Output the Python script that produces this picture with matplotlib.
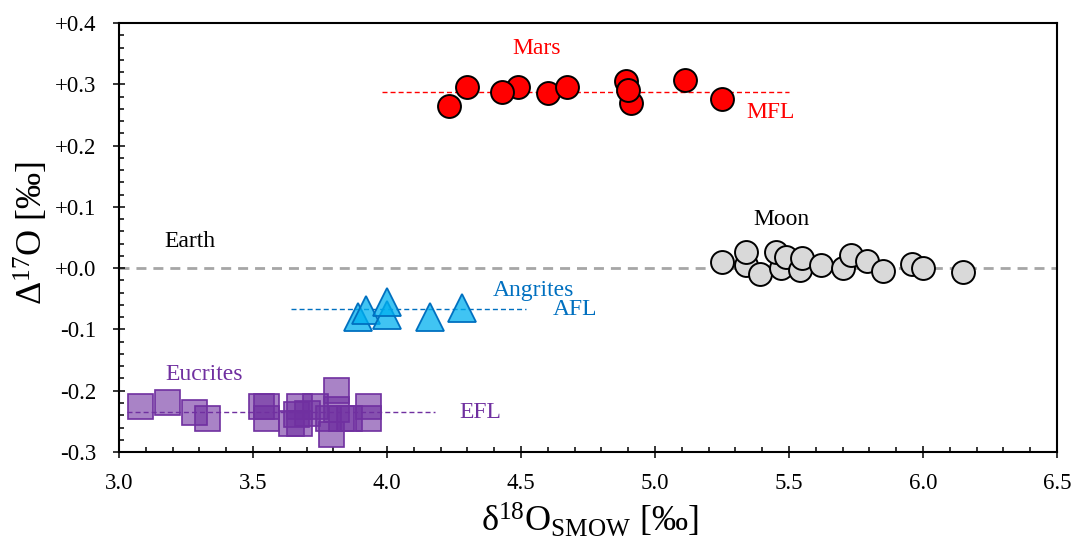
import numpy as np
import matplotlib
matplotlib.use('Agg')
import matplotlib.pyplot as plt
from matplotlib.ticker import MultipleLocator, FuncFormatter

plt.rcParams['font.family'] = ['Liberation Serif', 'DejaVu Serif']
plt.rcParams['mathtext.fontset'] = 'custom'
plt.rcParams['mathtext.rm'] = 'Liberation Serif'
plt.rcParams['mathtext.it'] = 'Liberation Serif:italic'

# d18O (x) and D17O (y) values, permil
mars_x = [4.23, 4.49, 4.43, 4.60, 4.67, 4.30, 4.89, 4.91, 4.90, 5.11, 5.25]
mars_y = [0.265, 0.295, 0.288, 0.285, 0.295, 0.295, 0.306, 0.270, 0.290, 0.307, 0.276]

moon_x = [5.25, 5.34, 5.34, 5.39, 5.47, 5.45, 5.49, 5.54, 5.55, 5.62, 5.70,
          5.73, 5.79, 5.85, 5.96, 6.00, 6.15]
moon_y = [0.010, 0.005, 0.026, -0.010, 0.000, 0.027, 0.019, -0.003, 0.016,
          0.005, 0.000, 0.021, 0.011, -0.004, 0.007, 0.001, -0.006]

angrite_x = [3.89, 3.92, 4.00, 4.00, 4.16, 4.28]
angrite_y = [-0.079, -0.068, -0.076, -0.055, -0.079, -0.065]

eucrite_x = [3.08, 3.18, 3.28, 3.33, 3.53, 3.55, 3.55, 3.64, 3.66, 3.67, 3.67,
             3.70, 3.73, 3.78, 3.81, 3.81, 3.79, 3.83, 3.86, 3.93, 3.93]
eucrite_y = [-0.225, -0.219, -0.234, -0.245, -0.225, -0.245, -0.225, -0.253,
             -0.238, -0.225, -0.253, -0.237, -0.225, -0.245, -0.199, -0.230,
             -0.270, -0.245, -0.245, -0.225, -0.245]

# fractionation lines: (x start, x end, D17O)
mfl = (3.98, 5.50, 0.288)
afl = (3.64, 4.52, -0.067)
efl = (3.03, 4.18, -0.234)

fig = plt.figure(figsize=(10.75, 5.45), dpi=100)
ax = fig.add_axes([0.1107, 0.1706, 0.8726, 0.7872])

# terrestrial line
ax.axhline(0.0, color='#A6A6A6', lw=2, dashes=(3.6, 2.5), zorder=1)

ax.plot(mfl[:2], [mfl[2]] * 2, color='#FF0000', lw=1, dashes=(3.6, 2.2), zorder=1)
ax.plot(afl[:2], [afl[2]] * 2, color='#0070C0', lw=1, dashes=(3.6, 2.2), zorder=1)
ax.plot(efl[:2], [efl[2]] * 2, color='#7030A0', lw=1, dashes=(3.6, 2.2), zorder=1)

for x, y in zip(eucrite_x, eucrite_y):
    ax.plot(x, y, 's', ms=18, mfc=(0.44, 0.19, 0.63, 0.6), mec='#7030A0',
            mew=1.2, zorder=2)
for x, y in zip(angrite_x, angrite_y):
    ax.plot(x, y, '^', ms=19.5, mfc=(0.0, 0.69, 0.94, 0.75), mec='#0070C0',
            mew=1.3, zorder=2)
for x, y in zip(moon_x, moon_y):
    ax.plot(x, y, 'o', ms=16.5, mfc='#D9D9D9', mec='black', mew=1.4, zorder=3)
for x, y in zip(mars_x, mars_y):
    ax.plot(x, y, 'o', ms=16.5, mfc='#FF0000', mec='black', mew=1.4, zorder=3)

ax.text(4.56, 0.359, 'Mars', color='#FF0000', fontsize=17, ha='center', va='center')
ax.text(5.43, 0.254, 'MFL', color='#FF0000', fontsize=17, ha='center', va='center')
ax.text(5.47, 0.080, 'Moon', color='black', fontsize=17, ha='center', va='center')
ax.text(3.265, 0.044, 'Earth', color='black', fontsize=17, ha='center', va='center')
ax.text(4.545, -0.037, 'Angrites', color='#0070C0', fontsize=17, ha='center', va='center')
ax.text(4.70, -0.068, 'AFL', color='#0070C0', fontsize=17, ha='center', va='center')
ax.text(3.317, -0.174, 'Eucrites', color='#7030A0', fontsize=17, ha='center', va='center')
ax.text(4.347, -0.235, 'EFL', color='#7030A0', fontsize=17, ha='center', va='center')

ax.set_xlim(3.0, 6.5)
ax.set_ylim(-0.3, 0.4)
ax.xaxis.set_major_locator(MultipleLocator(0.5))
ax.xaxis.set_minor_locator(MultipleLocator(0.1))
ax.yaxis.set_major_locator(MultipleLocator(0.1))
ax.yaxis.set_minor_locator(MultipleLocator(0.02))
ax.xaxis.set_major_formatter(FuncFormatter(lambda v, p: '%.1f' % v))
ax.yaxis.set_major_formatter(FuncFormatter(
    lambda v, p: ('+%.1f' % abs(v)) if v > -1e-9 else '%.1f' % v))

ax.tick_params(which='major', direction='inout', length=8.5, width=1.1,
               labelsize=16.5, top=False, right=False)
ax.tick_params(which='minor', direction='in', length=3.6, width=1.1,
               top=False, right=False)
ax.tick_params(axis='x', which='major', pad=10.5)
ax.tick_params(axis='y', which='major', pad=12)
for s in ax.spines.values():
    s.set_linewidth(1.5)

ax.set_xlabel(r'δ$^{\mathrm{18}}$O$_{\mathrm{SMOW}}$ [‰]', fontsize=26, va='center')
ax.set_ylabel(r'Δ$^{\mathrm{17}}$O [‰]', fontsize=26, va='center')
ax.xaxis.set_label_coords(0.502, -0.16)
ax.yaxis.set_label_coords(-0.093, 0.51)

fig.savefig('out.png', dpi=100)
